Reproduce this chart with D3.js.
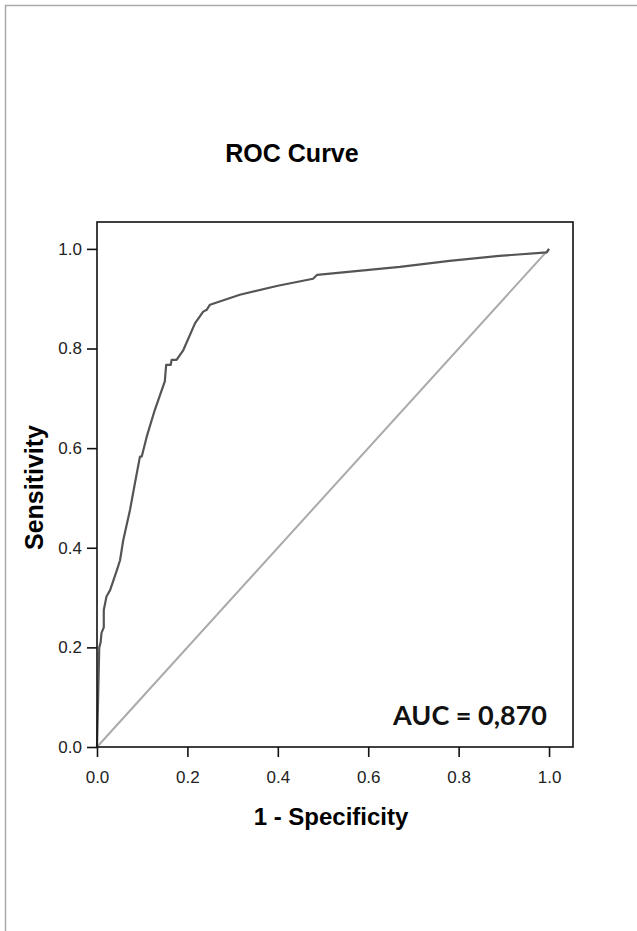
<!DOCTYPE html>
<html>
<head>
<meta charset="utf-8">
<script src="https://cdn.jsdelivr.net/npm/d3@7"></script>
<style>
    body { margin: 0; background: white; }
    svg { display: block; }
    .tick text { font-family: "Liberation Sans", Arial, sans-serif; }
</style>
</head>
<body>
<script>
// values
const fpr = [0, 0.005, 0.008, 0.010, 0.015, 0.015, 0.021, 0.029, 0.044, 0.051, 0.058, 0.073, 0.084, 0.095, 0.099, 0.110,
    0.128, 0.150, 0.153, 0.163, 0.165, 0.176, 0.191, 0.217, 0.235, 0.243, 0.250, 0.316, 0.400, 0.478, 0.487,
    0.670, 0.780, 0.890, 0.995, 1];
const tpr = [0, 0.200, 0.210, 0.229, 0.240, 0.275, 0.302, 0.315, 0.355, 0.375, 0.415, 0.476, 0.530, 0.583, 0.583, 0.623,
    0.677, 0.734, 0.767, 0.767, 0.777, 0.777, 0.797, 0.851, 0.874, 0.878, 0.888, 0.908, 0.926, 0.940, 0.948,
    0.964, 0.976, 0.986, 0.993, 1];
const tickValues = [0, 0.2, 0.4, 0.6, 0.8, 1.0];
const reference = [0, 1];

const title = 'ROC Curve';
const xLabel = '1 - Specificity';
const yLabel = 'Sensitivity';
const auc = 'AUC = 0,870';

const width = 637, height = 931;
const frame = { left: 97, top: 222, right: 573, bottom: 747 };

const svg = d3.select('body').append('svg').attr('width', width).attr('height', height);

// page edge (only top and left show in the original)
svg.append('path')
    .attr('d', `M5.5,${height} V5.5 H${width}`)
    .attr('fill', 'none').attr('stroke', '#aaa').attr('stroke-width', 1.5);

// axis domain stretches past 1.0 so the frame sits a little outside the last tick
const x = d3.scaleLinear().domain([0, 1.053]).range([frame.left, frame.right]);
const y = d3.scaleLinear().domain([0, 1.054]).range([frame.bottom, frame.top]);

const fmt = d3.format('.1f');

const xAxis = svg.append('g').attr('transform', `translate(0, ${frame.bottom})`)
    .call(d3.axisBottom(x).tickValues(tickValues).tickFormat(fmt).tickSize(10).tickSizeOuter(0).tickPadding(14));
const yAxis = svg.append('g').attr('transform', `translate(${frame.left}, 0)`)
    .call(d3.axisLeft(y).tickValues(tickValues).tickFormat(fmt).tickSize(10).tickSizeOuter(0).tickPadding(5));

[xAxis, yAxis].forEach(axis => {
    axis.select('.domain').remove();
    axis.selectAll('.tick line').attr('stroke', '#111').attr('stroke-width', 1.6);
    axis.selectAll('.tick text').attr('font-size', 17).attr('fill', '#222');
});

// diagonal reference line
svg.append('line')
    .attr('x1', x(reference[0])).attr('y1', y(reference[0]))
    .attr('x2', x(reference[1])).attr('y2', y(reference[1]))
    .attr('stroke', '#aaa').attr('stroke-width', 2);

// the ROC curve itself
const line = d3.line().x(d => x(d[0])).y(d => y(d[1]));
svg.append('path')
    .datum(d3.zip(fpr, tpr))
    .attr('d', line)
    .attr('fill', 'none')
    .attr('stroke', '#555')
    .attr('stroke-width', 2.2)
    .attr('stroke-linejoin', 'round');

// frame box
svg.append('rect')
    .attr('x', frame.left).attr('y', frame.top)
    .attr('width', frame.right - frame.left).attr('height', frame.bottom - frame.top)
    .attr('fill', 'none').attr('stroke', '#111').attr('stroke-width', 1.6);

svg.append('text')
    .attr('x', 292).attr('y', 162)
    .attr('text-anchor', 'middle')
    .attr('font-family', '"Liberation Sans", Arial, sans-serif')
    .attr('font-weight', 'bold').attr('font-size', 25)
    .text(title);

svg.append('text')
    .attr('x', 331).attr('y', 825)
    .attr('text-anchor', 'middle')
    .attr('font-family', '"Liberation Sans", Arial, sans-serif')
    .attr('font-weight', 'bold').attr('font-size', 24)
    .text(xLabel);

svg.append('text')
    .attr('transform', `translate(43, ${(frame.top + frame.bottom) / 2 + 3}) rotate(-90)`)
    .attr('text-anchor', 'middle')
    .attr('font-family', '"Liberation Sans", Arial, sans-serif')
    .attr('font-weight', 'bold').attr('font-size', 25)
    .text(yLabel);

svg.append('text')
    .attr('x', 547).attr('y', 725)
    .attr('text-anchor', 'end')
    .attr('font-family', 'Lato, "Open Sans", sans-serif')
    .attr('font-weight', 'bold').attr('font-size', 27)
    .attr('fill', '#111')
    .text(auc);
</script>
</body>
</html>
